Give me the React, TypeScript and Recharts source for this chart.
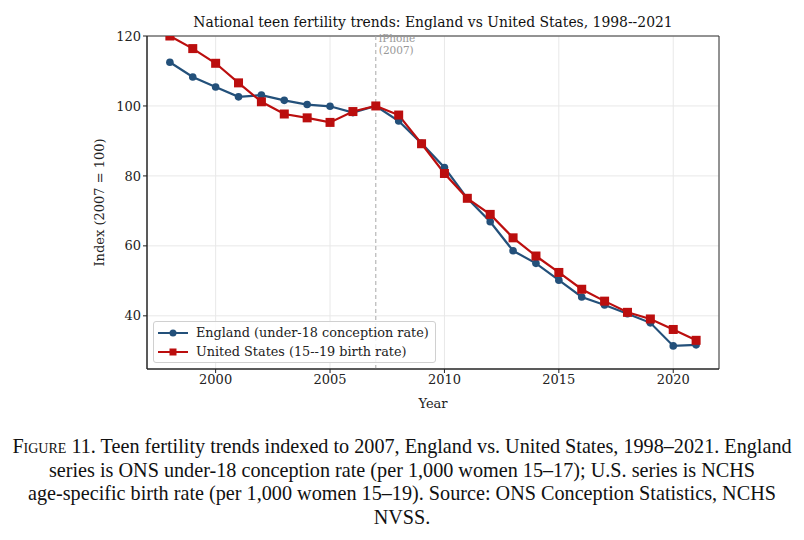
import {
  LineChart, Line, XAxis, YAxis, CartesianGrid, ReferenceLine, ReferenceArea,
} from 'recharts'

// Years and index values (2007 = 100)
const years = [1998, 1999, 2000, 2001, 2002, 2003, 2004, 2005, 2006, 2007, 2008, 2009,
  2010, 2011, 2012, 2013, 2014, 2015, 2016, 2017, 2018, 2019, 2020, 2021]
const england = [112.5, 108.3, 105.4, 102.6, 103.1, 101.6, 100.4, 99.9, 98.1, 100, 95.7, 89.3,
  82.4, 73.6, 66.9, 58.6, 55.0, 50.2, 45.4, 43.1, 40.6, 38.0, 31.4, 31.7]
const unitedStates = [120, 116.4, 112.2, 106.6, 101.2, 97.7, 96.6, 95.3, 98.4, 100, 97.4, 89.2,
  80.7, 73.6, 69.0, 62.3, 57.1, 52.4, 47.6, 44.2, 41.0, 39.1, 36.1, 33.0]
const xTicks = [2000, 2005, 2010, 2015, 2020]
const yTicks = [40, 60, 80, 100, 120]

const data = years.map((year, i) => ({ year, england: england[i], us: unitedStates[i] }))

const BLUE = '#23507a'
const RED = '#bb0e0e'
const SERIF = '"DejaVu Serif", serif'

const captionLines = [
  <><span style={{ fontVariant: 'small-caps' }}>Figure</span> 11. Teen fertility trends indexed to 2007, England vs. United States, 1998–2021. England</>,
  <>series is ONS under-18 conception rate (per 1,000 women 15–17); U.S. series is NCHS</>,
  <>age-specific birth rate (per 1,000 women 15–19). Source: ONS Conception Statistics, NCHS</>,
  <>NVSS.</>,
]

function Square(props: any) {
  const { cx, cy } = props
  if (cx == null || cy == null) return null
  return <rect x={cx - 4.5} y={cy - 4.5} width={9} height={9} fill={RED} />
}

function LegendBox() {
  const row = (color: string, marker: 'circle' | 'square', label: string) => (
    <div style={{ display: 'flex', alignItems: 'center', height: 19, whiteSpace: 'nowrap' }}>
      <svg width={30} height={12} style={{ marginRight: 8, flexShrink: 0 }}>
        <line x1={0} y1={6} x2={30} y2={6} stroke={color} strokeWidth={2} />
        {marker === 'circle'
          ? <circle cx={15} cy={6} r={3.5} fill={color} />
          : <rect x={11.5} y={2.5} width={7} height={7} fill={color} />}
      </svg>
      <span>{label}</span>
    </div>
  )
  return (
    <div style={{
      position: 'absolute', left: 153, top: 321, boxSizing: 'border-box',
      border: '1px solid #d0d0d0', borderRadius: 3, background: 'rgba(255,255,255,0.85)',
      padding: '1px 4px 1px 4px', fontFamily: SERIF, fontSize: 12.8, color: '#222', width: 283,
    }}>
      {row(BLUE, 'circle', 'England (under-18 conception rate)')}
      {row(RED, 'square', 'United States (15--19 birth rate)')}
    </div>
  )
}

export default function App() {
  return (
    <div style={{ position: 'absolute', left: 0, top: 0, width: 804, height: 540, background: '#fff' }}>
      <div style={{
        position: 'absolute', top: 14, left: 147, width: 572, textAlign: 'center',
        fontFamily: SERIF, fontSize: 13.9, color: '#111', whiteSpace: 'nowrap',
      }}>
        National teen fertility trends: England vs United States, 1998--2021
      </div>
      <LineChart width={804} height={420} data={data}
        margin={{ top: 36, right: 85, left: 97, bottom: 21 }}>
        <CartesianGrid stroke="#e8e8e8" />
        <XAxis
          dataKey="year" type="number" domain={[1997, 2022]} ticks={xTicks}
          allowDataOverflow height={30}
          tick={{ fill: '#222', fontSize: 13, fontFamily: SERIF }}
          tickLine={{ stroke: '#222' }} tickSize={4}
          axisLine={{ stroke: '#222' }}
          label={{ value: 'Year', position: 'insideBottom', offset: -9, fill: '#222', fontSize: 13, fontFamily: SERIF }}
        />
        <YAxis
          domain={[24.8, 120]} ticks={yTicks} allowDataOverflow width={50}
          tick={{ fill: '#222', fontSize: 13, fontFamily: SERIF }}
          tickLine={{ stroke: '#222' }} tickSize={4}
          axisLine={{ stroke: '#222' }}
          label={{ value: 'Index (2007 = 100)', angle: -90, position: 'insideLeft', offset: 0, dx: 2, fill: '#222', fontSize: 13, fontFamily: SERIF, style: { textAnchor: 'middle' } }}
        />
        <ReferenceArea x1={1997} x2={2022} y1={24.8} y2={120} fill="none" stroke="#333" strokeWidth={1} ifOverflow="visible" />
        <ReferenceLine
          x={2007} stroke="#a8a8a8" strokeDasharray="4 3" strokeWidth={1}
          label={(props: any) => {
            const { viewBox } = props
            const x = viewBox.x + 3
            const y = viewBox.y
            return (
              <text x={x} y={y} fill="#999" fontSize={10.5} fontFamily={SERIF}>
                <tspan x={x} dy={6}>iPhone</tspan>
                <tspan x={x} dy={12}>(2007)</tspan>
              </text>
            )
          }}
        />
        <Line
          dataKey="england" stroke={BLUE} strokeWidth={2.2} isAnimationActive={false}
          dot={{ r: 3.8, fill: BLUE, stroke: BLUE, strokeWidth: 0 }} activeDot={false}
        />
        <Line
          dataKey="us" stroke={RED} strokeWidth={2.2} isAnimationActive={false}
          dot={<Square />} activeDot={false}
        />
      </LineChart>
      <LegendBox />
      <div style={{
        position: 'absolute', top: 435, left: 0, width: 804, textAlign: 'center',
        fontFamily: '"Liberation Serif", "Times New Roman", serif', fontSize: 20.2,
        lineHeight: '23.7px', color: '#111',
      }}>
        {captionLines.map((l, i) => <div key={i}>{l}</div>)}
      </div>
    </div>
  )
}
